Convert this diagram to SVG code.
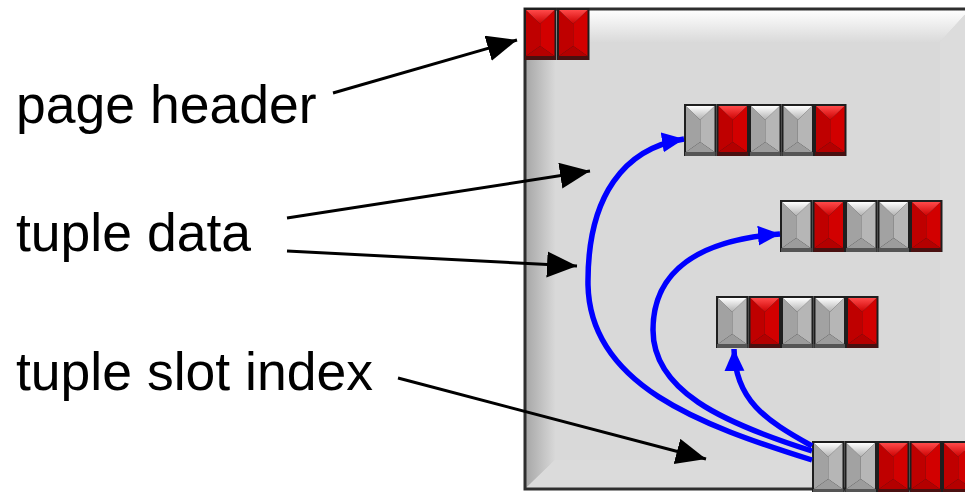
<svg xmlns="http://www.w3.org/2000/svg" xmlns:xlink="http://www.w3.org/1999/xlink" width="965" height="492" viewBox="0 0 965 492">
<style>
.lbl{font-family:"Liberation Sans",Arial,sans-serif;font-size:53.5px;fill:#000}
.blk{fill:none;stroke:#000;stroke-width:3}
.blu{fill:none;stroke:#0000ff;stroke-width:5.5}
</style>
<defs>
<linearGradient id="gTop" x1="0" y1="0" x2="0" y2="1"><stop offset="0" stop-color="#ffffff"/><stop offset="1" stop-color="#dadada"/></linearGradient>
<linearGradient id="gLeft" x1="0" y1="0" x2="1" y2="0"><stop offset="0" stop-color="#a6a6a6"/><stop offset="1" stop-color="#d8d8d8"/></linearGradient>
<linearGradient id="cTopG" x1="0" y1="0" x2="0" y2="1"><stop offset="0" stop-color="#ffffff"/><stop offset="1" stop-color="#b0b0b0"/></linearGradient>
<linearGradient id="cTopR" x1="0" y1="0" x2="0" y2="1"><stop offset="0" stop-color="#ff4a4a"/><stop offset="1" stop-color="#cc0000"/></linearGradient>
<g id="gc">
<rect x="0" y="0" width="32.5" height="52" fill="#1e1e1e"/>
<rect x="1" y="48" width="30.5" height="4" fill="#555"/>
<polygon points="2,2 16.25,16 16.25,38 2,48" fill="#a2a2a2"/>
<polygon points="30.5,2 16.25,16 16.25,38 30.5,48" fill="#b6b6b6"/>
<polygon points="2,48 30.5,48 16.25,38" fill="#9c9c9c"/>
<polygon points="2,2 30.5,2 16.25,16" fill="url(#cTopG)"/>
</g>
<g id="rc">
<rect x="0" y="0" width="32.5" height="52" fill="#1e1e1e"/>
<rect x="1" y="48" width="30.5" height="4" fill="#4a1010"/>
<polygon points="2,2 16.25,16 16.25,38 2,48" fill="#bf0000"/>
<polygon points="30.5,2 16.25,16 16.25,38 30.5,48" fill="#d20000"/>
<polygon points="2,48 30.5,48 16.25,38" fill="#b40000"/>
<polygon points="2,2 30.5,2 16.25,16" fill="url(#cTopR)"/>
</g>
<marker id="ak" markerUnits="userSpaceOnUse" markerWidth="32" markerHeight="28" refX="30" refY="13" orient="auto"><path d="M0,0 L30,13 L0,26 z" fill="#000"/></marker>
<marker id="ab" markerUnits="userSpaceOnUse" markerWidth="24" markerHeight="22" refX="22" refY="10" orient="auto"><path d="M0,0 L22,10 L0,20 z" fill="#0000ff"/></marker>
</defs>
<rect width="965" height="492" fill="#fff"/>
<g id="page">
<rect x="525" y="9" width="445" height="480" fill="#d9d9d9"/>
<polygon points="525,9 970,9 940,42 555,42" fill="url(#gTop)"/>
<polygon points="525,9 555,42 555,460 525,489" fill="url(#gLeft)"/>
<polygon points="525,489 555,460 940,460 970,489" fill="#dbdbdb"/>
<polygon points="970,9 940,42 940,460 970,489" fill="#dcdcdc"/>
<rect x="525" y="9" width="445" height="480" fill="none" stroke="#2e2e2e" stroke-width="3"/>
</g>
<g id="page-header-cells">
<use xlink:href="#rc" x="524" y="8"/>
<use xlink:href="#rc" x="557" y="8"/>
</g>
<g id="tuple1">
<use xlink:href="#gc" x="684" y="104"/><use xlink:href="#rc" x="716.5" y="104"/><use xlink:href="#gc" x="749" y="104"/><use xlink:href="#gc" x="781.5" y="104"/><use xlink:href="#rc" x="814" y="104"/>
</g>
<g id="tuple2">
<use xlink:href="#gc" x="780" y="200"/><use xlink:href="#rc" x="812.5" y="200"/><use xlink:href="#gc" x="845" y="200"/><use xlink:href="#gc" x="877.5" y="200"/><use xlink:href="#rc" x="910" y="200"/>
</g>
<g id="tuple3">
<use xlink:href="#gc" x="716" y="296"/><use xlink:href="#rc" x="748.5" y="296"/><use xlink:href="#gc" x="781" y="296"/><use xlink:href="#gc" x="813.5" y="296"/><use xlink:href="#rc" x="846" y="296"/>
</g>
<g id="slot-index">
<use xlink:href="#gc" x="812" y="441"/><use xlink:href="#gc" x="844.5" y="441"/><use xlink:href="#rc" x="877" y="441"/><use xlink:href="#rc" x="909.5" y="441"/><use xlink:href="#rc" x="942" y="441"/>
</g>
<g id="label-page-header"><text class="lbl" x="16" y="123">page header</text></g>
<g id="label-tuple-data"><text class="lbl" x="16" y="251">tuple data</text></g>
<g id="label-tuple-slot-index"><text class="lbl" x="16" y="390">tuple slot index</text></g>
<g id="connectors">
<line class="blk" x1="333" y1="93" x2="517" y2="40" marker-end="url(#ak)"/>
<line class="blk" x1="287" y1="218" x2="590" y2="171" marker-end="url(#ak)"/>
<line class="blk" x1="287" y1="251" x2="577" y2="266" marker-end="url(#ak)"/>
<line class="blk" x1="398" y1="378" x2="706" y2="459" marker-end="url(#ak)"/>
<path class="blu" d="M812,460 C700,425 590,385 588,285 C587,195 625,148 684,139" marker-end="url(#ab)"/>
<path class="blu" d="M812,451 C720,422 653,390 653,330 C653,270 700,240 780,234" marker-end="url(#ab)"/>
<path class="blu" d="M812,446 C765,420 735,400 734,349" marker-end="url(#ab)"/>
</g>
</svg>
